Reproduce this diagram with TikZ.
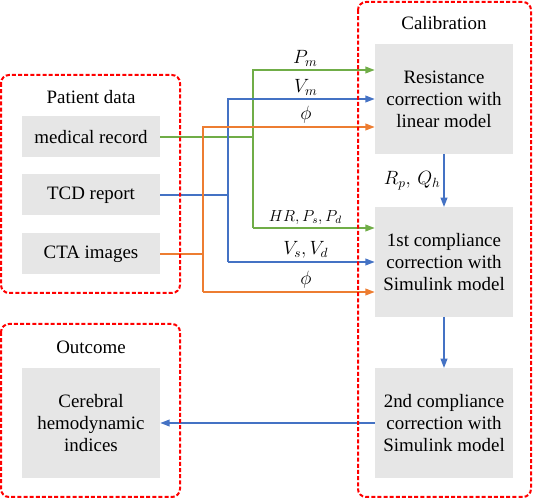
\documentclass[tikz,border=0pt]{standalone}
\usepackage{amsmath}
\usepackage{fontspec}
\setmainfont{Liberation Serif}
\newfontfamily\serif{Liberation Serif}
\usetikzlibrary{calc}
\usetikzlibrary{arrows.meta}
\definecolor{grn}{RGB}{112,173,71}
\definecolor{blu}{RGB}{68,114,196}
\definecolor{org}{RGB}{237,125,49}
\definecolor{boxgray}{RGB}{230,230,230}
\tikzset{
    txt/.style={font=\serif\fontsize{14.2}{16.5}\selectfont},
    box/.style={txt, fill=boxgray, minimum width=103.5pt, minimum height=30.75pt, inner sep=0pt, align=center},
    bigbox/.style={box, minimum height=82pt},
    frame/.style={draw=red, line width=1.5pt, dash pattern=on 3pt off 1.6pt, rounded corners=6pt},
    wire/.style={line width=1.2pt},
    arr/.style={wire, -{Triangle[length=7pt,width=5pt]}},
    lbl/.style={txt, inner sep=2pt}
}
\begin{document}
\begin{tikzpicture}[x=0.75pt,y=-0.75pt]
    \useasboundingbox (0,0) rectangle (533,499);
    %KOORDINAT
    \coordinate (pm) at (253,70);
    \coordinate (vm) at (228,99);
    \coordinate (fa) at (203,127);
    \coordinate (hr) at (253,228);
    \coordinate (vs) at (228,262);
    \coordinate (fb) at (203,292);
    %KOTAK
    \node[box] (med) at (91,137) {medical record};
    \node[box] (tcd) at (91,195) {TCD report};
    \node[box] (cta) at (91,254) {CTA images};
    \node[bigbox] (cer) at (91,423) {Cerebral\\hemodynamic\\indices};
    \node[bigbox] (res) at (444,99) {Resistance\\correction with\\linear model};
    \node[bigbox] (fst) at (444,262) {1st compliance\\correction with\\Simulink model};
    \node[bigbox] (snd) at (444,423) {2nd compliance\\correction with\\Simulink model};
    %JUDUL
    \node[txt] (tpat) at (91,97) {Patient data};
    \node[txt] (tout) at (91,347) {Outcome};
    \node[txt] (tcal) at (444,23) {Calibration};
    %GARIS
    \draw[wire, color=grn] (med.east) -- (med.east -| pm);
    \draw[arr, color=grn] (hr) -- (pm) -- (pm -| res.west) node[lbl, pos=0.43, above, text=black]{$P_m$};
    \draw[arr, color=grn] (hr) -- (hr -| fst.west) node[lbl, pos=0.43, above, text=black, font=\fontsize{11.5}{13}\selectfont]{$HR, P_s, P_d$};
    \draw[wire, color=blu] (tcd.east) -- (tcd.east -| vm);
    \draw[arr, color=blu] (vs) -- (vm) -- (vm -| res.west) node[lbl, pos=0.53, above, text=black]{$V_m$};
    \draw[arr, color=blu] (vs) -- (vs -| fst.west) node[lbl, pos=0.53, above, text=black]{$V_s, V_d$};
    \draw[wire, color=org] (cta.east) -- (cta.east -| fa);
    \draw[arr, color=org] (fb) -- (fa) -- (fa -| res.west) node[lbl, pos=0.6, above, text=black]{$\phi$};
    \draw[arr, color=org] (fb) -- (fb -| fst.west) node[lbl, pos=0.6, above, text=black]{$\phi$};
    \draw[arr, color=blu] (res.south) -- (fst.north) node[lbl, midway, left, text=black]{$R_p,\, Q_h$};
    \draw[arr, color=blu] (fst.south) -- (snd.north);
    \draw[arr, color=blu] (snd.west) -- (cer.east);
    %BINGKAI
    \draw[frame] (1,75) rectangle (180,293);
    \draw[frame] (1,324) rectangle (180,497);
    \draw[frame] (358,2) rectangle (531,497);
\end{tikzpicture}
\end{document}
